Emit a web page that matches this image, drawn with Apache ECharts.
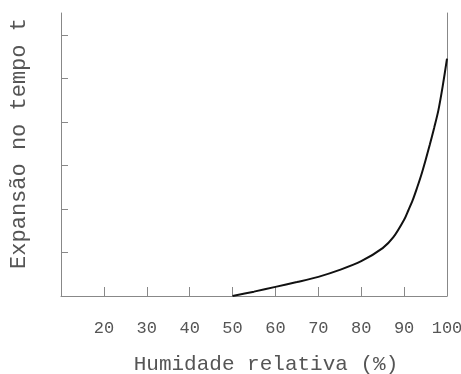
<!DOCTYPE html>
<html>
<head>
<meta charset="utf-8">
<script src="https://cdn.jsdelivr.net/npm/echarts@6/dist/echarts.min.js"></script>
<style>html,body{margin:0;padding:0;background:#fff}#c{width:461px;height:374px}</style>
</head>
<body>
<div id="c"></div>
<script>
var humidity = [50, 55, 60, 65, 70, 75, 80, 85, 87.5, 90, 91, 92, 93, 94, 95, 96, 97, 98, 99, 100];
var expansion = [0, 0.1, 0.21, 0.32, 0.44, 0.6, 0.8, 1.1, 1.35, 1.75, 1.97, 2.2, 2.48, 2.78, 3.12, 3.48, 3.86, 4.27, 4.82, 5.45];
var xTicks = [20, 30, 40, 50, 60, 70, 80, 90, 100];
var yTicks = [1, 2, 3, 4, 5, 6];
var xTitle = 'Humidade relativa (%)';
var yTitle = 'Expansão no tempo t';

var chart = echarts.init(document.getElementById('c'), null, {renderer: 'canvas'});
var titleFont = 'Liberation Mono';
var labelFont = 'Liberation Mono';
var axisColor = '#888';
chart.setOption({
  animation: false,
  backgroundColor: '#fff',
  grid: {left: 61, right: 14, top: 13, bottom: 78, containLabel: false, outerBoundsMode: 'none'},
  xAxis: {
    type: 'value', min: 10, max: 100, interval: 10,
    name: xTitle, nameLocation: 'middle', nameGap: 58,
    nameTextStyle: {fontFamily: titleFont, fontSize: 21, color: '#555', padding: [0, 0, 0, 24]},
    axisLine: {show: true, lineStyle: {color: axisColor, width: 1}},
    axisTick: {show: true, inside: true, length: 9, customValues: xTicks, lineStyle: {color: axisColor}},
    axisLabel: {customValues: xTicks, fontFamily: labelFont, fontSize: 17, color: '#555', margin: 24},
    splitLine: {show: false}
  },
  yAxis: [{
    type: 'value', min: 0, max: 6.5, position: 'left',
    name: yTitle, nameLocation: 'middle', nameGap: 31, nameRotate: 90,
    nameTextStyle: {fontFamily: titleFont, fontSize: 22, color: '#555', padding: [0, 0, 0, 22]},
    axisLine: {show: true, lineStyle: {color: axisColor, width: 1}},
    axisTick: {show: true, inside: true, length: 7, customValues: yTicks, lineStyle: {color: axisColor}},
    axisLabel: {show: false},
    splitLine: {show: false}
  }, {
    type: 'value', min: 0, max: 6.5, position: 'right',
    axisLine: {show: true, lineStyle: {color: axisColor, width: 1}},
    axisTick: {show: false}, axisLabel: {show: false}, splitLine: {show: false}
  }],
  series: [{
    type: 'line',
    data: humidity.map(function (h, i) { return [h, expansion[i]]; }),
    smooth: 0.3,
    symbol: 'none',
    lineStyle: {color: '#111', width: 2}
  }]
});
</script>
</body>
</html>
